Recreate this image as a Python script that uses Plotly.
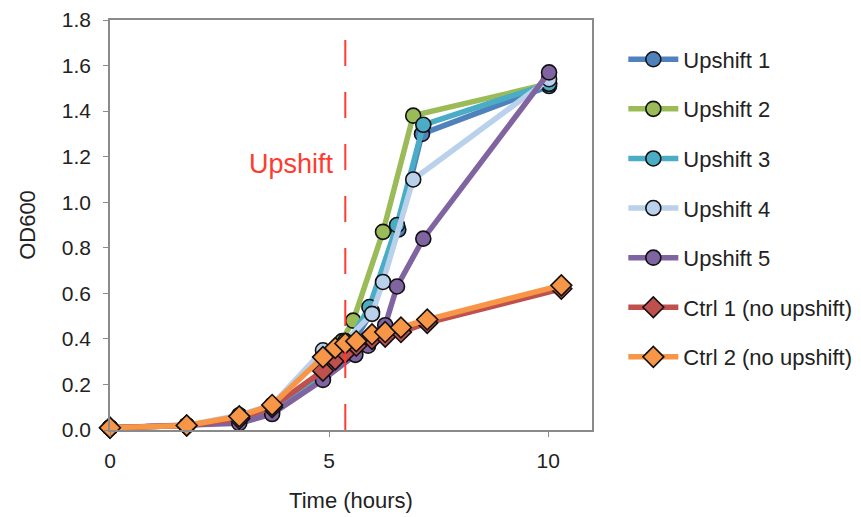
import plotly.graph_objects as go

# ---- data ----
names = ["Upshift 1", "Upshift 2", "Upshift 3", "Upshift 4", "Upshift 5",
         "Ctrl 1 (no upshift)", "Ctrl 2 (no upshift)"]

t_up1 = [0, 1.75, 2.95, 3.7, 4.86, 5.37, 5.98, 6.58, 7.12, 10.02]
v_up1 = [0.01, 0.02, 0.04, 0.08, 0.23, 0.33, 0.52, 0.88, 1.30, 1.51]

t_up2 = [0, 1.75, 2.95, 3.7, 4.86, 5.3, 5.55, 6.23, 6.92, 10.02]
v_up2 = [0.01, 0.02, 0.05, 0.09, 0.25, 0.39, 0.48, 0.87, 1.38, 1.52]

t_up3 = [0, 1.75, 2.95, 3.7, 4.86, 5.37, 5.92, 6.55, 7.15, 10.02]
v_up3 = [0.01, 0.02, 0.05, 0.09, 0.24, 0.36, 0.54, 0.90, 1.34, 1.52]

t_up4 = [0, 1.75, 2.95, 3.7, 4.86, 5.37, 5.98, 6.23, 6.92, 10.02]
v_up4 = [0.01, 0.02, 0.065, 0.11, 0.35, 0.39, 0.51, 0.65, 1.10, 1.54]

t_up5 = [0, 1.75, 2.95, 3.7, 4.86, 5.6, 5.89, 6.28, 6.55, 7.15, 10.02]
v_up5 = [0.01, 0.02, 0.03, 0.07, 0.22, 0.33, 0.37, 0.46, 0.63, 0.84, 1.57]

t_ctrl = [0, 1.75, 2.95, 3.7, 4.86, 5.14, 5.37, 5.62, 5.98, 6.28, 6.64, 7.24, 10.3]
v_ctrl1 = [0.01, 0.02, 0.05, 0.10, 0.26, 0.31, 0.34, 0.37, 0.40, 0.41, 0.43, 0.47, 0.62]
v_ctrl2 = [0.01, 0.02, 0.06, 0.11, 0.32, 0.36, 0.38, 0.39, 0.42, 0.43, 0.45, 0.485, 0.635]

upshift_time = 5.37
upshift_label = "Upshift"

x_ticks = [0, 5, 10]
y_ticks = [0, 0.2, 0.4, 0.6, 0.8, 1.0, 1.2, 1.4, 1.6, 1.8]

series = [
    (t_up1, v_up1, "#4F81BD", "circle"),
    (t_up2, v_up2, "#9BBB59", "circle"),
    (t_up3, v_up3, "#4BACC6", "circle"),
    (t_up4, v_up4, "#B9D1EA", "circle"),
    (t_up5, v_up5, "#8064A2", "circle"),
    (t_ctrl, v_ctrl1, "#C0504D", "diamond"),
    (t_ctrl, v_ctrl2, "#F79646", "diamond"),
]

FONT = "Liberation Sans, Arial, sans-serif"

fig = go.Figure()
for name, (t, v, col, sym) in zip(names, series):
    fig.add_trace(go.Scatter(
        x=t, y=v, name=name, mode="lines+markers",
        legendgroup=name, cliponaxis=False,
        line=dict(color=col, width=5.5),
        marker=dict(symbol=sym, size=15 if sym == "circle" else 16, color=col,
                    line=dict(color="#111111", width=1.6)),
    ))

fig.add_shape(type="line", x0=upshift_time, x1=upshift_time, y0=0, y1=1.8,
              xref="x", yref="y",
              line=dict(color="#FF3B30", width=2, dash="26px,26px"))
fig.add_annotation(x=5.15, y=1.17, xref="x", yref="y", text=upshift_label,
                   showarrow=False, xanchor="right", yanchor="middle",
                   font=dict(family=FONT, size=27, color="#FF3B30"))

axis_common = dict(showgrid=False, zeroline=False, showline=True, linecolor="#8a8a8a",
                   linewidth=1.5, mirror=True, ticks="outside", ticklen=5,
                   tickcolor="#8a8a8a", automargin=False,
                   tickfont=dict(family=FONT, size=21, color="#222222"))

fig.update_xaxes(range=[0, 11], tickvals=x_ticks, ticklabelstandoff=6,
                 title=dict(text="Time (hours)", font=dict(family=FONT, size=22, color="#222222"),
                            standoff=22),
                 **axis_common)
fig.update_yaxes(range=[0, 1.8], tickvals=y_ticks, tickformat=".1f", ticklabelstandoff=8,
                 title=dict(text="OD600", font=dict(family=FONT, size=22, color="#222222"),
                            standoff=20),
                 **axis_common)

fig.update_layout(
    width=861, height=517,
    margin=dict(l=102, r=268, t=12, b=95),
    plot_bgcolor="white", paper_bgcolor="white",
    font=dict(family=FONT, color="#222222"),
    legend=dict(x=1.065, y=0.955, xanchor="left", yanchor="top",
                font=dict(family=FONT, size=22, color="#222222"),
                traceorder="grouped", tracegroupgap=18, itemwidth=50,
                bgcolor="rgba(0,0,0,0)"),
)

fig.write_html("out.html")
